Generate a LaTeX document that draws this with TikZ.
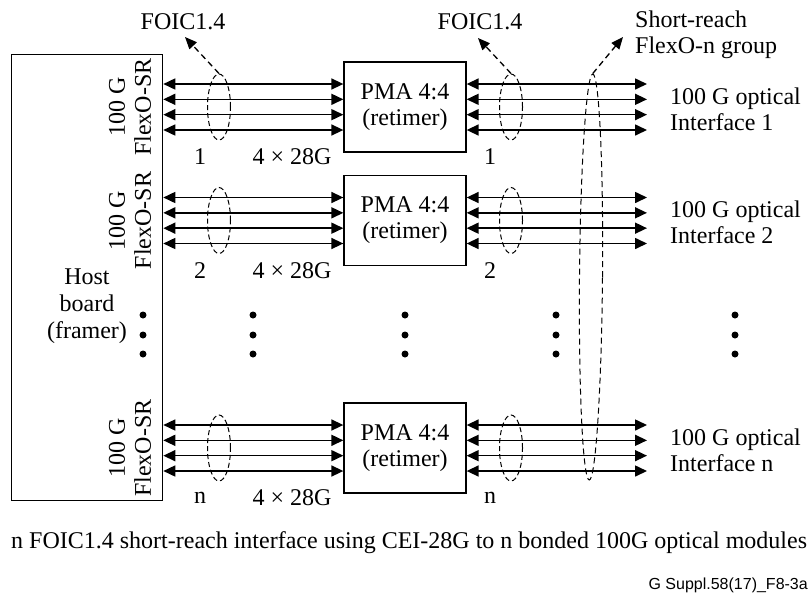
\documentclass[tikz,border=0pt]{standalone}
\usepackage{fontspec}
\setmainfont{Liberation Serif}
\newfontfamily\arialfont{Liberation Sans}
\usetikzlibrary{arrows.meta,shapes.geometric}
\begin{document}
\begin{tikzpicture}[x=1pt,y=-1pt,
 txt/.style={font=\fontsize{24}{26}\selectfont, inner sep=0pt},
 box/.style={draw, line width=1.3pt, inner sep=0pt},
 biarrow/.style={line width=1.6pt, {Triangle[length=12pt,width=11pt]}-{Triangle[length=12pt,width=11pt]}},
 grp/.style={draw, ellipse, line width=1pt, minimum width=23pt, minimum height=66pt, inner sep=0pt, dash pattern=on 5pt off 3pt},
 ptr/.style={line width=1.3pt, dash pattern=on 6pt off 4pt, -{Triangle[length=12pt,width=10pt]}},
 dotmark/.style={circle, fill, inner sep=0pt, minimum size=7pt}]
\useasboundingbox (0,0) rectangle (810,592);

\node[box, minimum width=151pt, minimum height=446pt, anchor=north west] (host) at (11,54) {};
\node[txt, align=center, font=\fontsize{24}{27}\selectfont] (hosttxt) at (87,306) {Host\\board\\(framer)};

\foreach \k/\c in {1/107, 2/220.5, n/448} {
  \node[box, txt, minimum width=122pt, minimum height=90pt, align=center] (p\k) at (405,\c) {PMA 4:4\\(retimer)};
  \coordinate (r\k) at (647,\c);
  \foreach \d in {-23,-7.67,7.67,23} {
    \draw[biarrow] ([yshift=\d pt]p\k.west -| host.east) -- ([yshift=\d pt]p\k.west);
    \draw[biarrow] ([yshift=\d pt]p\k.east) -- ([yshift=\d pt]r\k);
  }
  \node[grp] (el\k) at (219,\c) {};
  \node[grp] (er\k) at (511,\c) {};
  \node[txt, rotate=90, align=center] (fx\k) at (130,\c) {100 G\\FlexO-SR};
  \node[txt] (na\k) at (200,\c+50) {\k};
  \node[txt] (nb\k) at (292,\c+50) {4 × 28G};
  \node[txt] (nc\k) at (490,\c+50) {\k};
  \node[txt, align=left, anchor=west] (oi\k) at (670,\c+2) {100 G optical\\Interface \k};
}

\foreach \x in {143,253,405,556,735} {
  \foreach \y in {315,335,354} {
    \node[dotmark] (d\x-\y) at (\x,\y) {};
  }
}

\node[draw, ellipse, line width=1pt, dash pattern=on 6pt off 4pt, minimum width=23pt, minimum height=406pt, inner sep=0pt, rotate=-0.5] (big) at (591,277) {};

\coordinate (t1) at (185,37);
\draw[ptr] (el1.north) -- (t1);
\node[txt] (foic1) at (183,22) {FOIC1.4};
\coordinate (t2) at (478,38);
\draw[ptr] (er1.north) -- (t2);
\node[txt] (foic2) at (480,22) {FOIC1.4};
\coordinate (t3) at (623,37);
\draw[ptr] (big.north) -- (t3);
\node[txt, align=left, anchor=west] (sr) at (635,35) {Short-reach\\FlexO-n group};

\node[txt, anchor=base west] (cap) at (11,548) {n FOIC1.4 short-reach interface using CEI-28G to n bonded 100G optical modules};
\node[font=\arialfont\fontsize{16}{18}\selectfont, anchor=base east, inner sep=0pt] (code) at (808,589) {G Suppl.58(17)\_F8-3a};
\end{tikzpicture}
\end{document}
